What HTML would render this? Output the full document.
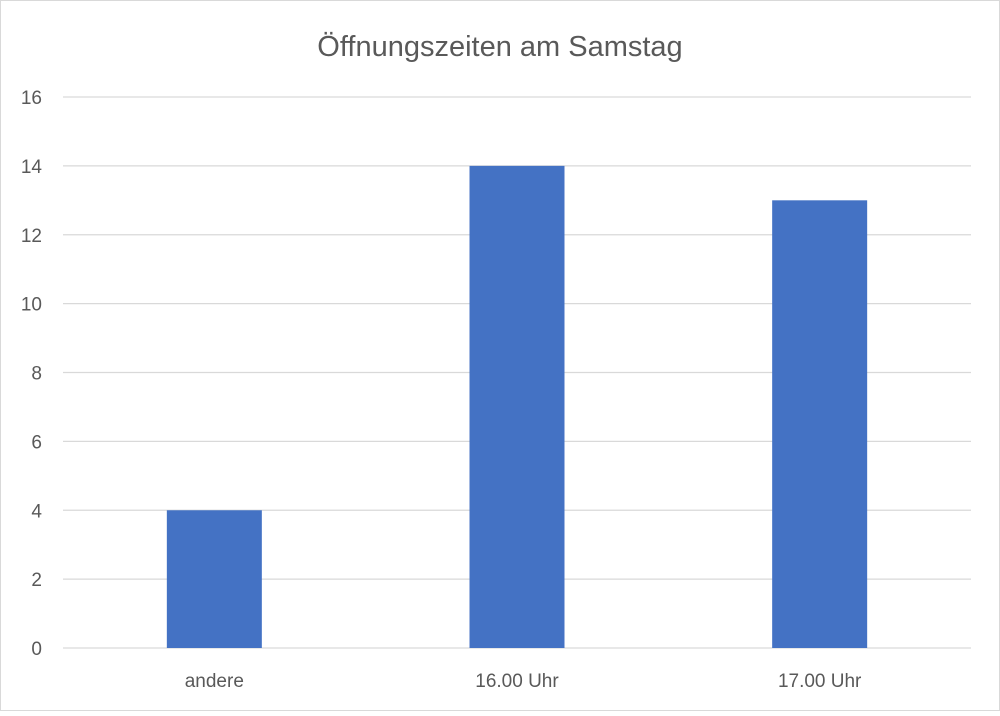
<!DOCTYPE html>
<html>
<head>
<meta charset="utf-8">
<style>
  html,body{margin:0;padding:0;background:#fff;}
  body{width:1000px;height:711px;overflow:hidden;font-family:"Liberation Sans",sans-serif;}
</style>
</head>
<body>
<svg id="chart" width="1000" height="711" xmlns="http://www.w3.org/2000/svg">
  <rect x="0.5" y="0.5" width="999" height="710" fill="#fff" stroke="#d9d9d9"/>
  <text x="500" y="56" text-anchor="middle" font-size="29" fill="#595959">Öffnungszeiten am Samstag</text>
  <g id="grid"></g>
  <g id="bars"></g>
  <g id="ylabels"></g>
  <g id="xlabels"></g>
</svg>
<script>
const categories = ["andere", "16.00 Uhr", "17.00 Uhr"];
const values = [4, 14, 13];
const yTicks = [0, 2, 4, 6, 8, 10, 12, 14, 16];

const NS = "http://www.w3.org/2000/svg";
const plotLeft = 63, plotRight = 971, yTop = 97, yBottom = 648, yMax = 16;
const y = v => yBottom - (v / yMax) * (yBottom - yTop);
const band = (plotRight - plotLeft) / categories.length;
const x = i => plotLeft + band * (i + 0.5);
const barW = 95;

const grid = document.getElementById("grid");
const ylabels = document.getElementById("ylabels");
yTicks.forEach(t => {
  const l = document.createElementNS(NS, "line");
  l.setAttribute("x1", plotLeft); l.setAttribute("x2", plotRight);
  l.setAttribute("y1", y(t)); l.setAttribute("y2", y(t));
  l.setAttribute("stroke", t === 0 ? "#d9d9d9" : "#d9d9d9");
  l.setAttribute("stroke-width", "1.3");
  
  
  grid.appendChild(l);
  const tx = document.createElementNS(NS, "text");
  tx.setAttribute("x", 42); tx.setAttribute("y", y(t) + 7);
  tx.setAttribute("text-anchor", "end");
  tx.setAttribute("font-size", "19"); tx.setAttribute("fill", "#595959");
  tx.textContent = t;
  
  
  ylabels.appendChild(tx);
});

const bars = document.getElementById("bars");
const xlabels = document.getElementById("xlabels");
categories.forEach((c, i) => {
  const r = document.createElementNS(NS, "rect");
  r.setAttribute("x", x(i) - barW / 2);
  r.setAttribute("y", y(values[i]));
  r.setAttribute("width", barW);
  r.setAttribute("height", y(0) - y(values[i]));
  r.setAttribute("fill", "#4472c4");
  
  
  bars.appendChild(r);
  const tx = document.createElementNS(NS, "text");
  tx.setAttribute("x", x(i)); tx.setAttribute("y", 687);
  tx.setAttribute("text-anchor", "middle");
  tx.setAttribute("font-size", "19"); tx.setAttribute("fill", "#595959");
  tx.textContent = c;
  
  
  xlabels.appendChild(tx);
});
</script>
</body>
</html>
